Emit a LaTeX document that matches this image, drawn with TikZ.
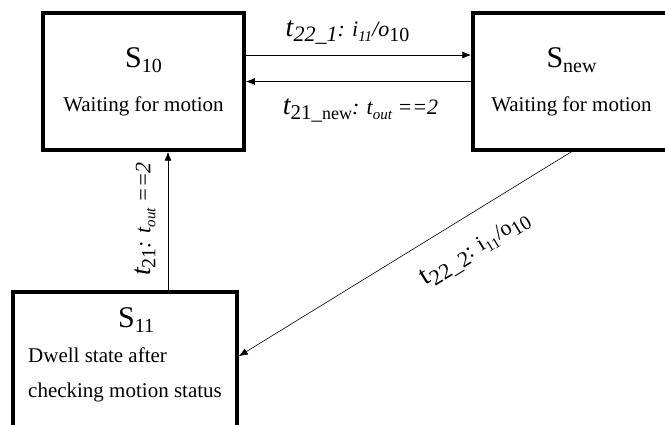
\documentclass[tikz,border=0pt]{standalone}
\usepackage{fontspec}
\setmainfont{Liberation Serif}
\usetikzlibrary{positioning,arrows.meta}
\newcommand{\fsz}[1]{\fontsize{#1}{#1}\selectfont}
\newcommand{\lowtxt}[2]{\raisebox{-5pt}{\fsz{#1}#2}}

\begin{document}
\begin{tikzpicture}[x=1pt, y=-1pt,
  state/.style={draw, line width=3.5pt, inner sep=0pt, font=\fontsize{21}{35}\selectfont},
  lbl/.style={font=\fsz{22}, inner sep=1pt},
  arr/.style={-{Latex[length=9pt, width=7pt]}, line width=0.8pt}]
\useasboundingbox (0,0) rectangle (665,425);
\clip (0,0) rectangle (665,425);
% states
\node[state, minimum width=201pt, minimum height=137pt, align=center] (s10) at (143.5,81.5)
  {{\fsz{30}S}\lowtxt{20}{10}\\[9pt] Waiting for motion};
\node[state, minimum width=197pt, minimum height=137pt, align=center, right=225.5pt of s10] (snew)
  {{\fsz{30}S}\lowtxt{20}{new}\\[9pt] Waiting for motion};
\node[state, minimum width=224pt, align=left, inner xsep=14pt, inner ysep=16pt, text depth=40pt,
  below right=138.5pt and -30pt of s10.south west] (s11)
  {\hspace*{90pt}{\fsz{30}S}\lowtxt{20}{11}\\ Dwell state after\\ checking motion status};
% transitions
\draw[arr] ([yshift=26.5pt]s10.east) -- node[lbl, above=9pt, xshift=-11pt] (t221)
  {\textit{{\fsz{28}t}\lowtxt{22}{22\_1}: i\lowtxt{15}{11}/o\lowtxt{20}{\upshape 10}}} ([yshift=26.5pt]snew.west);
\draw[arr] (snew.west) -- node[lbl, below=16pt, xshift=2pt] (t21new)
  {\textit{{\fsz{28}t}\lowtxt{21}{\upshape 21\_{\fsz{18}new}}: t\lowtxt{15}{out} ={}=2}} (s10.east);
\draw[arr] ([xshift=43pt]s11.north) -- node[lbl, sloped, above=11pt, xshift=2pt] (t21)
  {\textit{{\fsz{28}t}\lowtxt{20}{\upshape 21}: t\lowtxt{15}{out} ={}=2}} ([xshift=43pt]s11.north |- s10.south);
\draw[arr, line width=0.6pt] (snew.south) -- node[lbl, pos=0.34, sloped, below=21pt] (t222)
  {{\fsz{28}t}\lowtxt{22}{22\_2}: i\lowtxt{15}{11}/o\lowtxt{20}{10}} ([yshift=-66pt]s11.north east);
\end{tikzpicture}
\end{document}
